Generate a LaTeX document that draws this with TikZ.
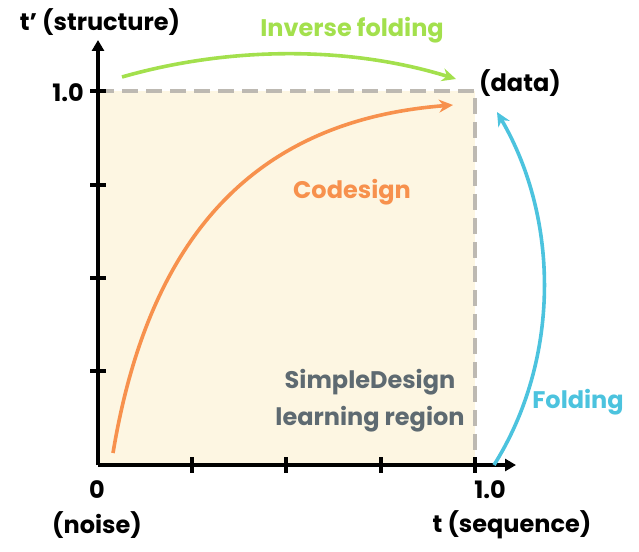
\documentclass[tikz,border=0pt]{standalone}
\usepackage{fontspec}
\setmainfont{Poppins}
\usetikzlibrary{arrows.meta}
\definecolor{cream}{HTML}{FDF6E2}
\definecolor{orng}{HTML}{F7914D}
\definecolor{grn}{HTML}{A3E04D}
\definecolor{blu}{HTML}{4CC3DE}
\definecolor{gry}{HTML}{5E6A71}
\definecolor{dgry}{HTML}{BDB9B2}
\begin{document}
\begin{tikzpicture}[x=1pt,y=-1pt,
  lbl/.style={font=\fontsize{24}{30}\selectfont\bfseries},
  ax/.style={line width=4pt,-{Triangle[length=11pt,width=12pt]}},
  tick/.style={line width=4pt},
  crv/.style={line width=3.6pt,-{Stealth[length=14pt,width=13pt]}}]
\useasboundingbox (0,0) rectangle (639,551);
\fill[cream] (98,91) rectangle (475,465);
\draw[dgry,line width=3.2pt,dash pattern=on 16pt off 8pt] (98,91) -- (475,91) -- (475,465);
\coordinate (o) at (98,465);
\coordinate (xe) at (516,465);
\coordinate (ye) at (98,40);
\draw[ax] (o) -- (xe);
\draw[ax] (o) -- (ye);
\foreach \t in {192,286,381} \draw[tick] (\t,457) -- (\t,473);
\foreach \t in {185,278,371} \draw[tick] (90,\t) -- (106,\t);
\draw[tick] (90,91) -- (106,91);
\draw[tick] (475,457) -- (475,473);
\node[lbl] (ty) at (100,22) {t' (structure)};
\node[lbl] (y1) at (68,93) {1.0};
\node[lbl] (x0) at (97,490) {0};
\node[lbl] (noise) at (97,525) {(noise)};
\node[lbl] (x1) at (490,490) {1.0};
\node[lbl] (tx) at (512,525) {t (sequence)};
\node[lbl] (data) at (520,83) {(data)};
\node[lbl,text=grn] (inv) at (352,30) {Inverse folding};
\node[lbl,text=blu] (fold) at (578,402) {Folding};
\node[lbl,text=orng] (cod) at (352,192) {Codesign};
\node[lbl,text=gry,align=center,font=\fontsize{24}{37}\selectfont\bfseries] (sd) at (370,401) {SimpleDesign\\learning region};
\coordinate (ga) at (122,77); \coordinate (gb) at (456,79);
\draw[crv,grn] (ga) .. controls (230,46) and (350,46) .. (gb);
\coordinate (ba) at (494,465); \coordinate (bb) at (497,112);
\draw[crv,blu] (ba) .. controls (560,360) and (560,220) .. (bb);
\coordinate (oa) at (113,453); \coordinate (ob) at (453,105);
\draw[crv,orng] (oa) .. controls (150,230) and (260,120) .. (ob);
\end{tikzpicture}
\end{document}
